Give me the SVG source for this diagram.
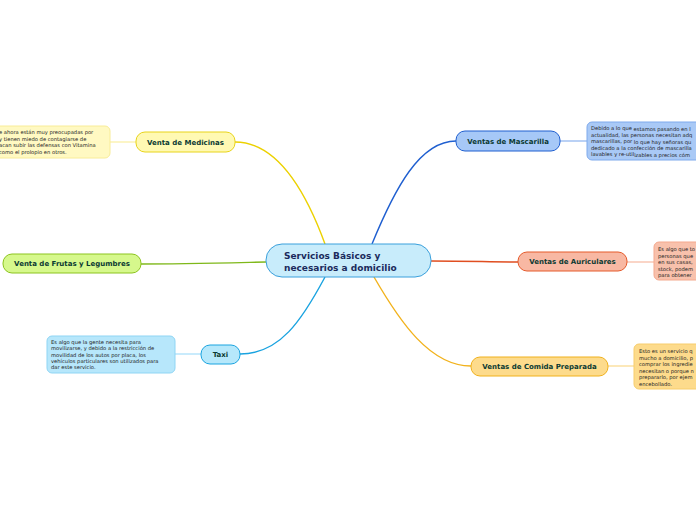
<svg xmlns="http://www.w3.org/2000/svg" width="696" height="520" viewBox="0 0 696 520">
<style>
.lbl{font-family:"DejaVu Sans",Verdana,sans-serif;font-weight:bold;font-size:7px;fill:#0b3a32;text-anchor:middle}
.note{font-family:"DejaVu Sans",Verdana,sans-serif;font-size:5.2px;fill:#222}
.main{font-family:"DejaVu Sans",Verdana,sans-serif;font-weight:bold;font-size:9px;fill:#1b2a5c}
.c{fill:none;stroke-width:1.4}
</style>
<rect width="696" height="520" fill="#ffffff"/>
<g id="connectors">
<path class="c" d="M325,244 C306,192 278,142 235,142" stroke="#ecd100"/>
<path class="c" d="M266,262 C220,263 180,264 141,264" stroke="#7fb81a"/>
<path class="c" d="M325,277 C302,320 280,354 240,354" stroke="#1aa3e0"/>
<path class="c" d="M372,244 C395,188 420,141 456,141" stroke="#1f5fd0"/>
<path class="c" d="M431,261 C470,261 490,262 518,262" stroke="#e04e20"/>
<path class="c" d="M374,277 C400,322 430,366 471,366" stroke="#f2b21c"/>
<path d="M110,142 H136" stroke="#fbeea0" stroke-width="1.2"/>
<path d="M175,354 H201" stroke="#a6defa" stroke-width="1.2"/>
<path d="M560,141 H587" stroke="#8db2ee" stroke-width="1.2"/>
<path d="M627,262 H654" stroke="#f7b9a2" stroke-width="1.2"/>
<path d="M608,366 H634" stroke="#fbd98a" stroke-width="1.2"/>
</g>
<g id="central">
<rect x="266" y="244" width="165" height="33" rx="16" fill="#c8ecfb" stroke="#3aa0dc" stroke-width="1"/>
<text class="main" x="284" y="259">Servicios Básicos y</text>
<text class="main" x="284" y="270.5">necesarios a domicilio</text>
</g>
<g id="medicinas">
<rect x="136" y="132" width="99" height="20" rx="9" fill="#fff9b3" stroke="#e8d41a"/>
<text class="lbl" x="185.5" y="144.5">Venta de Medicinas</text>
</g>
<g id="medicinas-note">
<rect x="-20" y="126" width="130" height="32" rx="5" fill="#fff9c2" stroke="#f8ec98"/>
<text class="note" x="-1" y="134">e ahora están muy preocupadas por</text>
<text class="note" x="-1" y="140.5">y tienen miedo de contagiarse de</text>
<text class="note" x="-1" y="147">acan subir las defensas con Vitamina</text>
<text class="note" x="-1" y="153.5">como el prolopio en otros.</text>
</g>
<g id="frutas">
<rect x="3" y="254" width="138" height="19" rx="9" fill="#d6f88c" stroke="#8cc41e"/>
<text class="lbl" x="72" y="266">Venta de Frutas y Legumbres</text>
</g>
<g id="taxi">
<rect x="201" y="345" width="39" height="19" rx="9" fill="#b6e8fb" stroke="#1aa4e0"/>
<text class="lbl" x="220.5" y="357">Taxi</text>
</g>
<g id="taxi-note">
<rect x="47" y="336" width="128" height="37" rx="5" fill="#b7e7fb" stroke="#8fd5f4"/>
<text class="note" x="51" y="344">Es algo que la gente necesita para</text>
<text class="note" x="51" y="350.3">movilizarse, y debido a la restricción de</text>
<text class="note" x="51" y="356.6">movilidad de los autos por placa, los</text>
<text class="note" x="51" y="362.9">vehículos particulares son utilizados para</text>
<text class="note" x="51" y="369.2">dar este servicio.</text>
</g>
<g id="mascarilla">
<rect x="456" y="131" width="104" height="20" rx="9" fill="#a6c8f7" stroke="#1f5fd0"/>
<text class="lbl" x="508" y="143.5">Ventas de Mascarilla</text>
</g>
<g id="mascarilla-note">
<rect x="587" y="122" width="130" height="38" rx="5" fill="#a9c9f6" stroke="#7faaec"/>
<text class="note" x="591" y="130">Debido a lo que <tspan dy="1">estamos pasando en l</tspan></text>
<text class="note" x="591" y="136.5">actualidad, las personas necesitan adq</text>
<text class="note" x="591" y="142.5">mascarillas, por <tspan dy="1.5">lo que hay señoras qu</tspan></text>
<text class="note" x="591" y="149.5">dedicado a la confección de mascarilla</text>
<text class="note" x="591" y="155.5">lavables y re-util<tspan dy="1">izables a precios cóm</tspan></text>
</g>
<g id="auriculares">
<rect x="518" y="252" width="109" height="19" rx="9" fill="#f8b8a3" stroke="#e55a2b"/>
<text class="lbl" x="572.5" y="264">Ventas de Auriculares</text>
</g>
<g id="auriculares-note">
<rect x="654" y="242" width="60" height="38" rx="5" fill="#f8c1ac" stroke="#f4a98e"/>
<text class="note" x="658" y="251">Es algo que to</text>
<text class="note" x="658" y="257.5">personas que</text>
<text class="note" x="658" y="264">en sus casas,</text>
<text class="note" x="658" y="270.5">stock, podem</text>
<text class="note" x="658" y="277">para obtener</text>
</g>
<g id="comida">
<rect x="471" y="357" width="137" height="19" rx="9" fill="#fddb8c" stroke="#f0b11d"/>
<text class="lbl" x="539.5" y="369">Ventas de Comida Preparada</text>
</g>
<g id="comida-note">
<rect x="634" y="344" width="80" height="45" rx="5" fill="#fddb8c" stroke="#f7cd6c"/>
<text class="note" x="639" y="353">Esto es un servicio q</text>
<text class="note" x="639" y="359.5">mucho a domicilio, p</text>
<text class="note" x="639" y="366">comprar los ingredie</text>
<text class="note" x="639" y="372.5">necesitan o porque n</text>
<text class="note" x="639" y="379">prepararlo, por ejem</text>
<text class="note" x="639" y="385.5">encebollado.</text>
</g>
</svg>
